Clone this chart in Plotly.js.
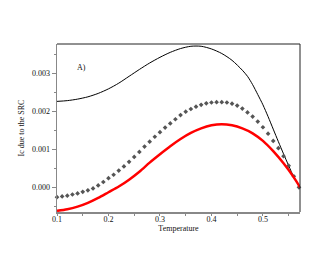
<!DOCTYPE html>
<html><head><meta charset="utf-8">
<script src="https://cdn.plot.ly/plotly-3.0.1.min.js"></script>
<style>html,body{margin:0;padding:0;background:#fff}#chart{width:327px;height:273px}</style>
</head><body><div id="chart"></div>
<script>
// Solid black curve
const solidT = [0.10,0.12,0.14,0.16,0.18,0.20,0.22,0.24,0.26,0.28,0.30,0.32,0.34,0.36,0.38,0.40,0.42,0.44,0.46,0.47,0.48,0.49,0.50,0.51,0.52,0.53,0.54,0.55,0.56,0.572];
const solidIc = [0.00226,0.00228,0.00232,0.00238,0.00247,0.00259,0.00274,0.00292,0.00310,0.00327,0.00342,0.00355,0.00365,0.00371,0.00371,0.00364,0.00352,0.00334,0.00308,0.00292,0.00270,0.00244,0.00217,0.00186,0.00153,0.00120,0.00088,0.00057,0.00027,0.0];
// Dotted (diamond markers) curve
const dotT = [0.10,0.11,0.12,0.13,0.14,0.15,0.16,0.17,0.18,0.19,0.20,0.21,0.22,0.23,0.24,0.25,0.26,0.27,0.28,0.29,0.30,0.31,0.32,0.33,0.34,0.35,0.36,0.37,0.38,0.39,0.40,0.41,0.42,0.43,0.44,0.45,0.46,0.47,0.48,0.49,0.50,0.51,0.52,0.53,0.54,0.55,0.56,0.57];
const dotIc = [-0.00026,-0.00024,-0.00022,-0.00019,-0.00016,-0.00012,-0.00008,-0.00003,0.00005,0.00014,0.00024,0.00033,0.00044,0.00055,0.00067,0.00080,0.00093,0.00107,0.00120,0.00133,0.00145,0.00157,0.00168,0.00179,0.00190,0.00199,0.00206,0.00212,0.00217,0.00221,0.00223,0.00224,0.00224,0.00223,0.00220,0.00215,0.00207,0.00197,0.00186,0.00173,0.00158,0.00141,0.00122,0.00103,0.00082,0.00057,0.00029,0.00000];
// Red curve
const redT = [0.10,0.12,0.14,0.16,0.18,0.20,0.22,0.24,0.26,0.28,0.30,0.32,0.34,0.36,0.38,0.40,0.42,0.44,0.46,0.48,0.50,0.52,0.54,0.56,0.572];
const redIc = [-0.00062,-0.00058,-0.00051,-0.00041,-0.00028,-0.00013,0.00002,0.00020,0.00041,0.00065,0.00087,0.00108,0.00127,0.00143,0.00155,0.00163,0.00166,0.00163,0.00155,0.00142,0.00122,0.00095,0.00063,0.00026,0.0];

const xTicks = [0.1,0.2,0.3,0.4,0.5];
const xTickText = ['0.1','0.2','0.3','0.4','0.5'];
const yTicks = [0,0.001,0.002,0.003];
const yTickText = ['0.000','0.001','0.002','0.003'];

const font = {family:'"Liberation Serif", "Times New Roman", serif', size:8, color:'#111'};

const traces = [
  {x:solidT, y:solidIc, mode:'lines', line:{color:'#000', width:1, shape:'spline', smoothing:0.8}, hoverinfo:'skip'},
  {x:dotT, y:dotIc, mode:'markers', marker:{symbol:'diamond', size:3.6, color:'#555', line:{width:0}}, cliponaxis:false, hoverinfo:'skip'},
  {x:redT, y:redIc, mode:'lines', line:{color:'#ff0000', width:2.5, shape:'spline', smoothing:0.8}, hoverinfo:'skip'}
];

const layout = {
  width:327, height:273,
  margin:{l:57, r:27, t:44, b:61},
  paper_bgcolor:'#fff', plot_bgcolor:'#fff',
  showlegend:false,
  font:font,
  xaxis:{range:[0.1,0.572], tickvals:xTicks, ticktext:xTickText, ticks:'outside', ticklen:2, tickwidth:1, tickcolor:'#888',
    ticklabelstandoff:-3,
    showgrid:false, zeroline:false, showline:true, linecolor:'#888', linewidth:1.5,
    minor:{tickvals:[0.15,0.25,0.35,0.45,0.55], ticks:'outside', ticklen:2, tickcolor:'#888', showgrid:false},
    tickfont:font, title:{text:'Temperature', font:font, standoff:0}},
  yaxis:{range:[-0.00065,0.00377], tickvals:yTicks, ticktext:yTickText, ticks:'outside', ticklen:4, tickwidth:1, tickcolor:'#888',
    showgrid:false, zeroline:false, showline:true, linecolor:'#888', linewidth:1.5,
    minor:{tickvals:[-0.0005,0.0005,0.0015,0.0025,0.0035], ticks:'outside', ticklen:2, tickcolor:'#888', showgrid:false},
    tickfont:font, title:{text:'Ic due to the SRC', font:font, standoff:6}},
  shapes:[
    {type:'line', xref:'paper', yref:'paper', x0:0, x1:1, y0:1, y1:1, line:{color:'#222', width:1}},
    {type:'line', xref:'paper', yref:'paper', x0:1, x1:1, y0:0, y1:1, line:{color:'#222', width:1}}
  ],
  annotations:[
    {x:0.148, y:0.00316, xref:'x', yref:'y', text:'A)', showarrow:false, font:font}
  ]
};

Plotly.newPlot('chart', traces, layout, {displayModeBar:false, staticPlot:true});
</script>
</body></html>
